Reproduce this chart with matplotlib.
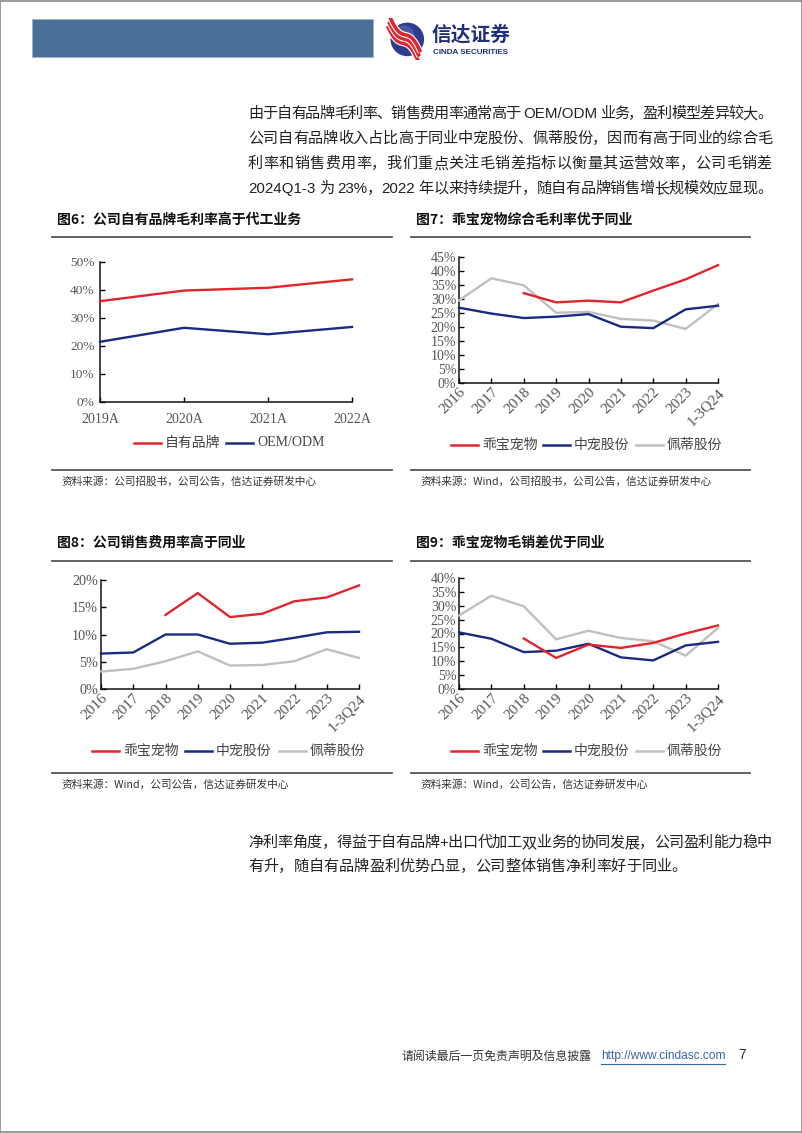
import re
import numpy as np
import matplotlib
matplotlib.use('Agg')
import matplotlib.pyplot as plt
import matplotlib.ticker as mtick
from matplotlib.patches import Rectangle, Circle
from matplotlib.lines import Line2D

W, H = 802, 1133
SANS = ['Liberation Sans', 'Noto Sans CJK SC']
CJK = ['Noto Sans CJK SC', 'DejaVu Sans']
SERIF = ['Liberation Serif', 'Noto Sans CJK SC']
RED = '#E2252C'
NAVY = '#1B2A83'
GREY = '#BFBFBF'
TXT = '#222222'

# 图6
years6 = ['2019A', '2020A', '2021A', '2022A']
own_brand = [36.0, 39.8, 40.8, 43.8]
oem_odm = [21.5, 26.5, 24.2, 26.8]

years = ['2016', '2017', '2018', '2019', '2020', '2021', '2022', '2023', '1-3Q24']
nan = np.nan
# 图7 综合毛利率
gm_guaibao = [nan, nan, 32.1, 28.8, 29.4, 28.8, 33.0, 37.0, 42.1]
gm_zhongchong = [26.9, 24.8, 23.2, 23.7, 24.6, 20.1, 19.6, 26.3, 27.6]
gm_peidi = [29.5, 37.4, 34.9, 25.1, 25.4, 22.9, 22.3, 19.3, 28.2]
# 图8 销售费用率
se_guaibao = [nan, nan, 13.6, 17.6, 13.2, 13.8, 16.1, 16.8, 19.0]
se_zhongchong = [6.5, 6.7, 10.0, 10.0, 8.3, 8.5, 9.4, 10.4, 10.5]
se_peidi = [3.2, 3.7, 5.1, 6.9, 4.3, 4.4, 5.1, 7.3, 5.7]
# 图9 毛销差
gs_guaibao = [nan, nan, 18.2, 11.2, 16.0, 14.8, 16.6, 20.0, 22.9]
gs_zhongchong = [20.4, 18.1, 13.3, 13.8, 16.3, 11.4, 10.3, 15.7, 17.0]
gs_peidi = [26.5, 33.6, 29.8, 17.9, 21.0, 18.4, 17.2, 12.0, 22.0]

companies = ['乖宝宠物', '中宠股份', '佩蒂股份']

para1 = ['由于自有品牌毛利率、销售费用率通常高于 OEM/ODM 业务，盈利模型差异较大。',
         '公司自有品牌收入占比高于同业中宠股份、佩蒂股份，因而有高于同业的综合毛',
         '利率和销售费用率，我们重点关注毛销差指标以衡量其运营效率，公司毛销差',
         '2024Q1-3 为 23%，2022 年以来持续提升，随自有品牌销售增长规模效应显现。']
para2 = ['净利率角度，得益于自有品牌+出口代加工双业务的协同发展，公司盈利能力稳中',
         '有升，随自有品牌盈利优势凸显，公司整体销售净利率好于同业。']

fig = plt.figure(figsize=(W / 100, H / 100), dpi=100)
renderer = fig.canvas.get_renderer()


def text(x, y, s, **kw):
    kw.setdefault('va', 'center')
    kw.setdefault('color', TXT)
    return fig.text(x / W, 1 - y / H, s, **kw)


def hline(x0, x1, y, **kw):
    fig.add_artist(Line2D([x0 / W, x1 / W], [1 - y / H] * 2,
                          transform=fig.transFigure, **kw))


def axes_px(l, t, r, b):
    return fig.add_axes([l / W, 1 - b / H, (r - l) / W, (b - t) / H])


def body_line(x0, x1, y, line, fs, justify=True):
    tokens = re.findall(r'[A-Za-z0-9%/\-\.]+| |.', line)
    arts, widths = [], []
    for tok in tokens:
        if tok == ' ':
            arts.append(None)
            widths.append(fs * 0.28 * 100 / 72)
            continue
        t = text(x0, y, tok, fontsize=fs, family=SANS)
        arts.append(t)
        widths.append(t.get_window_extent(renderer).width)
    gap = 0.0
    if justify and len(tokens) > 1:
        gap = (x1 - x0 - sum(widths)) / (len(tokens) - 1)
    x = x0
    for a, w in zip(arts, widths):
        if a is not None:
            a.set_x(x / W)
        x += w + gap


# page border
fig.add_artist(Rectangle((0.0005, 0.0005), 0.999, 0.999, transform=fig.transFigure,
                         fill=False, ec='#8a8a8a', lw=1.2))

# header bar + logo
fig.add_artist(Rectangle((32 / W, 1 - 57 / H), (373 - 32) / W, 38 / H,
                         transform=fig.transFigure, fc='#4A6F97', ec='#9DB3CC', lw=0.6))
logo = fig.add_axes([384 / W, 1 - 60 / H, 42 / W, 42 / H])
logo.set_xlim(-1.1, 1.1)
logo.set_ylim(-1.1, 1.1)
logo.set_aspect('equal')
logo.axis('off')
logo.add_patch(Circle((0.12, -0.02), 0.88, fc='#2D3C8E', ec='none'))
logo.add_patch(Circle((-0.05, 0.15), 0.55, fc='#5C6DB0', ec='none', alpha=0.6))
tt = np.linspace(-1, 1, 50)
for off in (-0.22, 0.0, 0.22):
    xs = tt * 0.8 - 0.05 + off * 0.3
    ys = -tt * 0.95 + 0.25 * np.sin(tt * 3) + off
    logo.plot(xs, ys, color='white', lw=4.2, solid_capstyle='butt')
    logo.plot(xs, ys, color='#E0262D', lw=2.6, solid_capstyle='butt')
text(432, 35, '信达证券', fontsize=14.2, fontweight='bold', color='#1F2F7A', family=CJK)
text(433, 52, 'CINDA SECURITIES', fontsize=5.8, fontweight='bold', color='#1F2F7A', family=SANS)

# paragraph 1
for i, line in enumerate(para1):
    body_line(248, 772, 114 + i * 25, line, 10.9)


def panel(ax, cats, series, ymax, step, rotate, fs, xfs=None):
    x = np.arange(len(cats))
    for vals, color in series:
        ax.plot(x, vals, color=color, lw=1.7, clip_on=False, zorder=3)
    ax.set_xlim(0, len(cats) - 1)
    ax.set_ylim(0, ymax)
    ax.set_yticks(np.arange(0, ymax + 0.01, step))
    ax.yaxis.set_major_formatter(mtick.PercentFormatter(decimals=0))
    ax.set_xticks(x)
    if rotate:
        ax.set_xticklabels(cats, rotation=45, ha='right', va='top', rotation_mode='anchor')
    else:
        ax.set_xticklabels(cats)
    for s in ('top', 'right'):
        ax.spines[s].set_visible(False)
    for s in ('left', 'bottom'):
        ax.spines[s].set_linewidth(1.1)
        ax.spines[s].set_color('#111111')
    ax.tick_params(direction='in', length=3.5, width=1, labelsize=fs,
                   labelcolor='#555555', pad=2)
    if xfs:
        ax.tick_params(axis='x', labelsize=xfs)
    for lab in ax.get_xticklabels() + ax.get_yticklabels():
        lab.set_family(SERIF)
    ax.patch.set_alpha(0)


def legend(y, items, fs=10):
    for x0, label, color in items:
        hline(x0, x0 + 27, y, color=color, lw=1.8)
        text(x0 + 31, y, label, fontsize=fs, family=CJK, color='#444444')


def frame(x0, x1, title, y_title, y_top, y_bot, src):
    text(x0 + 5, y_title, title, fontsize=10, fontweight='bold', family=CJK, color='#111111')
    hline(x0, x1, y_top, color='#555555', lw=1.3)
    hline(x0, x1, y_bot, color='#555555', lw=1.3)
    text(x0 + 9, y_bot + 12, src, fontsize=7.7, style='italic', family=CJK, color='#333333')


# 图6
frame(52, 392, '图6：公司自有品牌毛利率高于代工业务', 220, 237, 470,
      '资料来源：公司招股书，公司公告，信达证券研发中心')
ax6 = axes_px(100, 262, 352, 402)
panel(ax6, years6, [(own_brand, RED), (oem_odm, NAVY)], 50, 10, False, 9.6, 10)
ax6.tick_params(axis='x', pad=8)
ax6.tick_params(axis='y', pad=4)
legend(443, [(134, '自有品牌', RED), (226, 'OEM/ODM', NAVY)])
fig.texts[-1].set_family(SERIF)

# 图7
frame(411, 750, '图7：乖宝宠物综合毛利率优于同业', 220, 237, 470,
      '资料来源：Wind，公司招股书，公司公告，信达证券研发中心')
ax7 = axes_px(459, 257, 718, 383)
panel(ax7, years, [(gm_peidi, GREY), (gm_zhongchong, NAVY), (gm_guaibao, RED)], 45, 5, True, 10, 11)
legend(445, [(451, companies[0], RED), (543, companies[1], NAVY), (636, companies[2], GREY)])

# 图8
frame(52, 392, '图8：公司销售费用率高于同业', 543, 561, 773,
      '资料来源：Wind，公司公告，信达证券研发中心')
ax8 = axes_px(101, 580, 359, 689)
panel(ax8, years, [(se_peidi, GREY), (se_zhongchong, NAVY), (se_guaibao, RED)], 20, 5, True, 10.2, 11)
legend(751, [(92, companies[0], RED), (185, companies[1], NAVY), (279, companies[2], GREY)])

# 图9
frame(411, 750, '图9：乖宝宠物毛销差优于同业', 543, 561, 773,
      '资料来源：Wind，公司公告，信达证券研发中心')
ax9 = axes_px(459, 578, 718, 689)
panel(ax9, years, [(gs_peidi, GREY), (gs_zhongchong, NAVY), (gs_guaibao, RED)], 40, 5, True, 10, 11)
legend(751, [(451, companies[0], RED), (543, companies[1], NAVY), (636, companies[2], GREY)])

# paragraph 2
body_line(248, 772, 843, para2[0], 10.9)
body_line(248, 772, 867, para2[1], 10.9, justify=False)

# footer
text(402, 1056, '请阅读最后一页免责声明及信息披露', fontsize=8.6, family=CJK, color='#333333')
text(601, 1056, 'http://www.cindasc.com', fontsize=8.6, family=SANS, color='#3D63A8')
hline(601, 725, 1064, color='#3D63A8', lw=0.8)
text(738, 1055, '7', fontsize=10, family=SANS, color='#333333')

fig.savefig('out.png', dpi=100)
